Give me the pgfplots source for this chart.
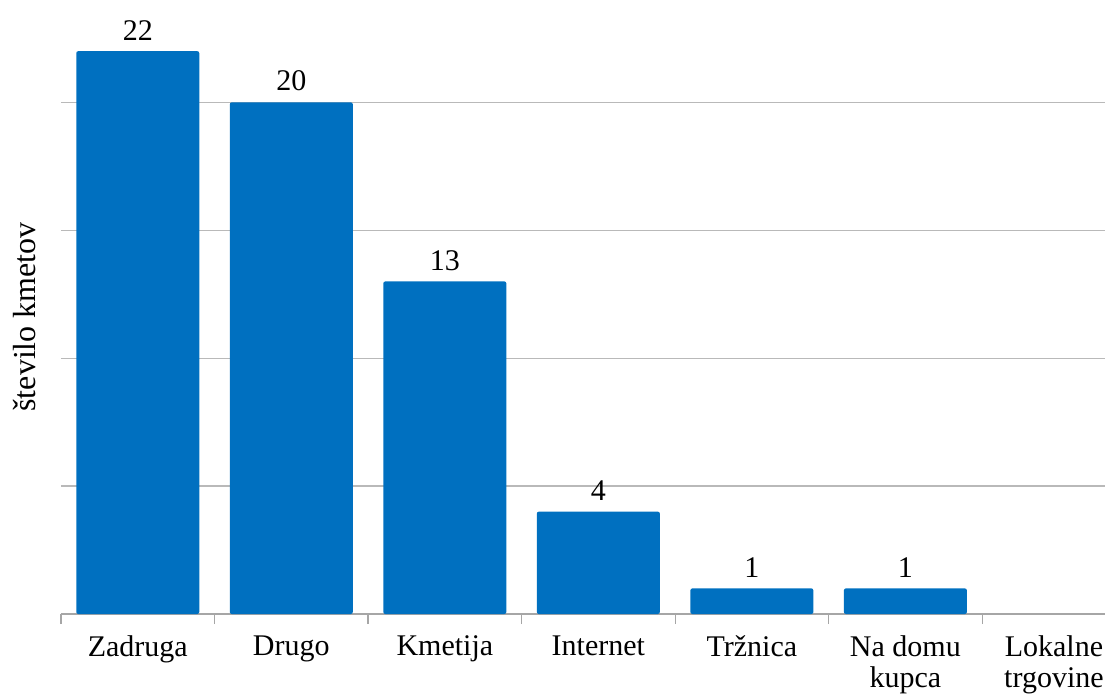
\documentclass[border=0pt]{standalone}
\usepackage{fontspec}
\setmainfont{Liberation Serif}
\usepackage{pgfplots}
\pgfplotsset{compat=1.18}
\definecolor{barblue}{RGB}{0,112,192}
\begin{document}
\begin{tikzpicture}
\path[use as bounding box] (-30.5pt,-42pt) rectangle (522pt,307pt);
\begin{axis}[
  at={(0,0)}, anchor=south west,
  width=522pt, height=307pt, scale only axis,
  /pgf/number format/assume math mode=true,
  xmin=-0.5, xmax=6.3, ymin=0, ymax=24,
  axis x line*=bottom, axis y line*=left,
  x axis line style={draw=gray!70, line width=0.6pt, -},
  y axis line style={draw=none},
  ybar, bar width=61.5pt,
  ytick={0,5,10,15,20}, yticklabels={},
  ymajorgrids, grid style={gray!55, line width=0.6pt},
  major y tick style={draw=none},
  xtick={0,1,2,3,4,5},
  xticklabels={Zadruga, Drugo, Kmetija, Internet, Tržnica, {Na domu\\kupca}},
  extra x ticks={6},
  extra x tick labels={{Lokalne\\trgovine}},
  extra x tick style={xticklabel style={xshift=-2.5pt}},
  major x tick style={draw=none},
  minor xtick={-0.5,0.5,1.5,2.5,3.5,4.5,5.5},
  minor x tick style={draw=gray!70, line width=0.6pt},
  minor tick length=5pt, tick align=outside,
  xticklabel style={align=center, font=\fontsize{15}{15.5}\selectfont, yshift=-3pt},
  nodes near coords,
  every node near coord/.append style={font=\fontsize{15}{15}\selectfont, black, yshift=2pt},
  ylabel={število kmetov},
  ylabel style={at={(axis description cs:-0.0354,0.484)}, anchor=center, font=\fontsize{16}{16}\selectfont},
]
\addplot[fill=barblue, draw=none, rounded corners=1pt] coordinates {(0,22) (1,20) (2,13) (3,4) (4,1) (5,1)};
\end{axis}
\end{tikzpicture}
\end{document}
